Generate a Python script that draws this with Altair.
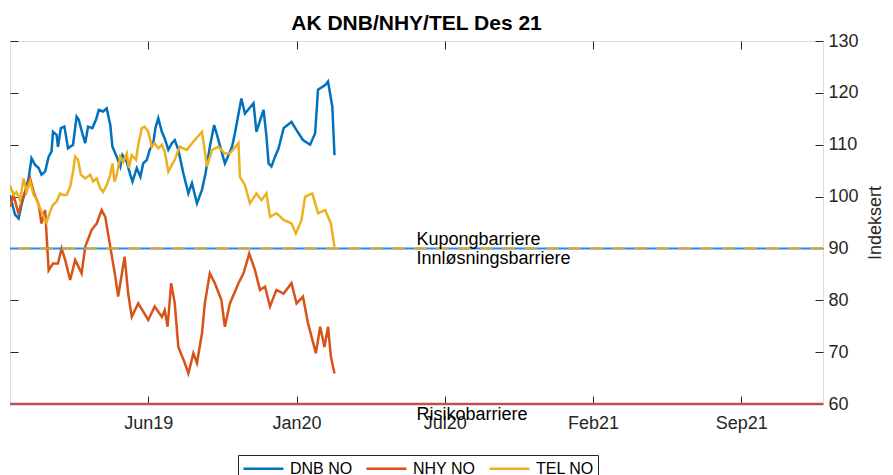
import altair as alt
import pandas as pd

# ---- data ----
series_names = ["DNB NO", "NHY NO", "TEL NO"]
series_colors = ["#0072BD", "#D95319", "#EDB120"]

x_domain = [0, 1135]                       # days from start (late Nov 2018) to early Jan 2022
x_tick_days = [193, 400, 607, 814, 1021]
x_tick_labels = ["Jun19", "Jan20", "Jul20", "Feb21", "Sep21"]
y_domain = [60, 130]
y_ticks = [60, 70, 80, 90, 100, 110, 120, 130]

dnb_days = [0, 7, 12, 16, 21, 26, 30, 35, 40, 44, 49, 54, 58, 60, 65, 67, 71, 76, 81, 88, 93,
            96, 101, 105, 109, 115, 120, 124, 130, 135, 140, 143, 149, 154, 157, 163, 168, 171,
            177, 182, 186, 191, 195, 200, 203, 207, 212, 216, 221, 226, 230,
            235, 242, 249, 254, 261, 268, 273, 279, 285, 291, 300, 310, 314, 323, 328, 340, 344,
            354, 358, 361, 365, 370, 375, 382, 393, 400, 409, 419, 426, 430, 440, 444, 450, 453]
dnb_vals = [100.3, 96.5, 95.8, 98.4, 100.9, 103.5, 107.4, 106.1, 105.5, 104.2, 104.8, 107.7,
            108.7, 112.5, 111.9, 109.6, 113.2, 113.5, 109.3, 110.0, 115.4, 114.8, 112.2, 110.3,
            113.5, 113.2, 114.8, 116.7, 116.4, 117.0, 113.8, 109.6, 107.7, 105.8, 108.0, 106.7,
            104.2, 102.9, 105.5, 103.8, 106.4, 107.1, 109.0, 110.3, 113.2, 115.1, 112.5, 111.2,
            109.0, 110.3, 110.9,
            109.0, 104.5, 100.6, 102.6, 98.7, 101.3, 104.5, 109.6, 113.8, 110.9, 106.4, 109.6,
            112.2, 118.9, 116.0, 118.0, 112.5, 116.7, 111.6, 106.4, 105.8, 107.7, 109.3, 113.2,
            114.4, 112.8, 110.9, 110.0, 112.2, 120.6, 121.5, 122.2, 117.3, 108.0]

nhy_days = [0, 5, 12, 16, 28, 33, 40, 44, 49, 54, 60, 67, 72, 77, 84, 91, 100, 105, 114, 121,
            128, 133, 140, 147, 151, 160, 165, 170, 179, 193, 202, 212, 216, 220, 225, 230, 235,
            244, 249, 256, 261, 268, 272, 279, 286, 295, 300, 307, 319, 326, 334, 342, 349, 356,
            363, 372, 382, 393, 400, 409, 416, 427, 433, 439, 444, 448, 453]
nhy_vals = [98.0, 100.3, 96.6, 99.0, 103.5, 100.9, 98.4, 94.8, 97.4, 85.8, 87.1, 87.1, 90.0,
            87.8, 83.9, 87.8, 85.2, 90.3, 93.6, 94.8, 97.4, 96.1, 90.3, 84.6, 80.7, 88.4, 81.3,
            76.8, 79.4, 76.2, 78.8, 76.8, 78.1, 74.9, 83.3, 79.4, 71.0, 67.9, 65.9, 69.8, 67.9,
            73.6, 79.4, 85.2, 83.3, 80.1, 74.9, 79.4, 83.3, 85.2, 89.0, 85.8, 82.0, 82.6, 78.8,
            82.0, 81.3, 83.3, 79.4, 80.7, 75.6, 69.8, 74.9, 71.0, 74.9, 69.1, 65.9]

tel_days = [0, 5, 9, 14, 19, 23, 28, 33, 37, 42, 47, 51, 56, 60, 65, 70, 74, 79, 84, 88, 91,
            95, 99, 105, 112, 116, 121, 126, 130, 135, 140, 143, 146, 149, 154, 158, 163, 166,
            170, 176, 179, 184, 188, 193, 198, 202, 207, 212, 216, 221, 226, 230,
            237, 247, 256, 268, 275, 282, 291, 300, 307, 319, 321, 328, 335, 344, 351, 358, 363,
            372, 382, 393, 399, 407, 412, 422, 430, 440, 448, 453]
tel_vals = [102.2, 100.3, 100.9, 99.3, 103.5, 100.9, 102.9, 100.3, 99.7, 97.7, 96.1, 95.0,
            97.1, 98.4, 99.0, 100.6, 100.3, 100.3, 101.9, 104.8, 107.7, 107.1, 104.2, 103.5,
            104.2, 102.9, 103.5, 101.6, 100.9, 102.2, 104.2, 106.4, 102.9, 104.2, 107.7, 106.7,
            108.3, 105.5, 108.0, 107.1, 110.0, 113.2, 113.5, 112.5, 109.6, 110.3, 109.3, 110.0,
            108.7, 104.8, 106.1, 107.1,
            109.6, 109.0, 110.6, 112.5, 105.8, 109.0, 109.6, 108.3, 108.3, 110.3, 103.8, 102.2,
            98.7, 100.6, 99.3, 100.6, 96.1, 96.8, 95.5, 94.8, 92.9, 95.5, 100.0, 100.6, 96.8,
            97.4, 94.8, 90.3]

barrier_labels = ["Kupongbarriere", "Innløsningsbarriere", "Risikobarriere"]
barrier_levels = [90, 90, 60]
label_day = 567.5

# ---- build table ----
rows = []
for name, days, vals in [("DNB NO", dnb_days, dnb_vals),
                         ("NHY NO", nhy_days, nhy_vals),
                         ("TEL NO", tel_days, tel_vals)]:
    for i, (d, v) in enumerate(zip(days, vals)):
        rows.append({"day": d, "value": v, "series": name, "order": i})
df = pd.DataFrame(rows)

label_expr = " : ".join(
    f"datum.value == {d} ? '{l}'" for d, l in zip(x_tick_days, x_tick_labels)
) + " : ''"

FONT = "Liberation Sans"
TXT = "#262626"

xscale = alt.Scale(domain=x_domain, nice=False, zero=False)
yscale = alt.Scale(domain=y_domain, nice=False, zero=False)

lines = alt.Chart(df).mark_line(strokeWidth=2.5, clip=True).encode(
    x=alt.X("day:Q", scale=xscale,
            axis=alt.Axis(orient="bottom", values=x_tick_days, labelExpr=label_expr,
                          title=None, grid=False, domain=False, ticks=True, tickSize=8,
                          offset=-8, labelPadding=10, tickColor=TXT, labelColor=TXT,
                          labelFont=FONT, labelFontSize=18)),
    y=alt.Y("value:Q", scale=yscale,
            axis=alt.Axis(orient="right", values=y_ticks, title="Indeksert", grid=False,
                          domain=False, tickSize=8, offset=-8, labelPadding=5,
                          tickColor=TXT, labelColor=TXT, labelFont=FONT, labelFontSize=18,
                          titleFont=FONT, titleFontSize=18, titleFontWeight="normal",
                          titleColor=TXT, titleAngle=270, titlePadding=26)),
    color=alt.Color("series:N",
                    scale=alt.Scale(domain=series_names, range=series_colors),
                    legend=alt.Legend(title=None, orient="none", direction="horizontal",
                                      legendX=228, legendY=414,
                                      symbolType="M-1,0H4", symbolSize=256,
                                      symbolStrokeWidth=2.5, labelFont=FONT,
                                      labelFontSize=16, labelColor="#000000",
                                      labelOffset=29, columnPadding=8,
                                      strokeColor="#262626", fillColor="white",
                                      padding=4)),
    order="order:Q",
    detail="series:N",
)

bar_df = pd.DataFrame({"level": barrier_levels, "label": barrier_labels})

rule90_blue = alt.Chart(bar_df.iloc[[0]]).mark_rule(color="#1E8CFF", strokeWidth=2).encode(
    y=alt.Y("level:Q", scale=yscale, axis=None))
rule90_yel = alt.Chart(bar_df.iloc[[1]]).mark_rule(color="#DDA420", strokeWidth=2,
                                                   strokeDash=[13, 9]).encode(
    y=alt.Y("level:Q", scale=yscale, axis=None))
rule60 = alt.Chart(bar_df.iloc[[2]]).mark_rule(color="#C0504D", strokeWidth=2.5).encode(
    y=alt.Y("level:Q", scale=yscale, axis=None))

bar_df["day"] = label_day

txt_kup = alt.Chart(bar_df.iloc[[0]]).mark_text(
    align="left", baseline="alphabetic", dy=-3, font=FONT, fontSize=18, color="black"
).encode(
    x=alt.X("day:Q", scale=xscale,
            axis=alt.Axis(orient="top", values=x_tick_days, labels=False, title=None,
                          grid=False, domain=False, tickSize=8, offset=-8, tickColor=TXT)),
    y=alt.Y("level:Q", scale=yscale,
            axis=alt.Axis(orient="left", values=y_ticks, labels=False, title=None,
                          grid=False, domain=False, tickSize=8, offset=-8, tickColor=TXT)),
    text="label:N",
)
txt_inn = alt.Chart(bar_df.iloc[[1, 2]]).mark_text(
    align="left", baseline="top", dy=2, font=FONT, fontSize=18, color="black"
).encode(
    x=alt.X("day:Q", scale=xscale, axis=None),
    y=alt.Y("level:Q", scale=yscale, axis=None),
    text="label:N",
)

chart = alt.layer(lines, rule90_blue, rule90_yel, rule60, txt_kup, txt_inn).resolve_axis(
    x="independent", y="independent"
).properties(
    width=813, height=363,
    title=alt.Title("AK DNB/NHY/TEL Des 21", font=FONT, fontSize=21, fontWeight="bold",
                    color="black", anchor="middle", frame="group", offset=-2),
    autosize=alt.AutoSizeParams(type="none"),
    padding={"left": 2, "top": 33, "right": 62, "bottom": 71},
).configure_view(stroke=TXT, strokeWidth=1).configure(background="white")

chart.save("out.html", embed_options={"renderer": "svg", "actions": False})
